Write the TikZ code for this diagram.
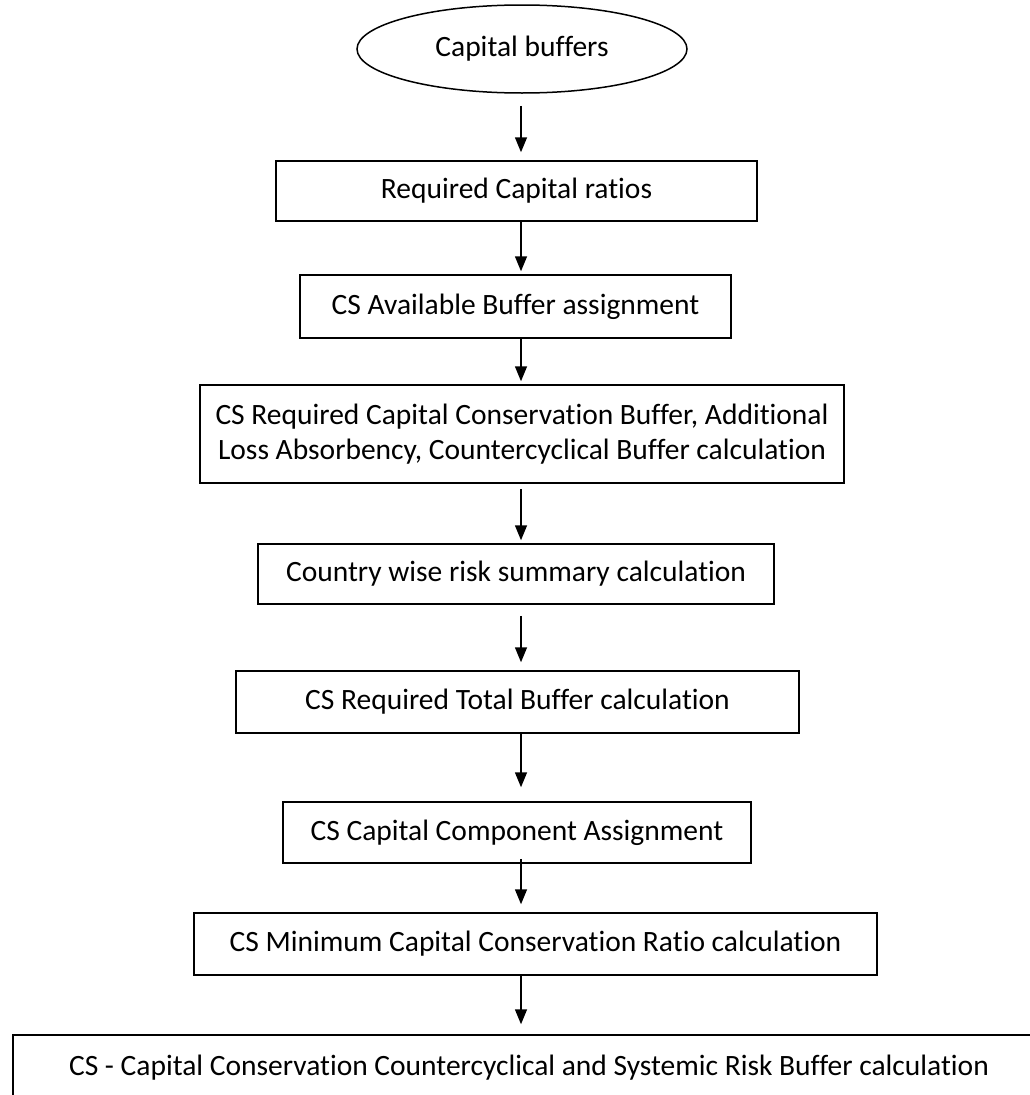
\documentclass[tikz,border=0pt]{standalone}
\usepackage{fontspec}
\setmainfont{Carlito}[Ligatures=NoCommon]
\usetikzlibrary{arrows.meta,shapes.geometric}

\tikzset{
  stepbox/.style={draw, line width=1.5pt, inner sep=0pt, align=center,
    font=\fontsize{29.5}{35}\selectfont},
  flow/.style={-{Triangle[width=12pt,length=15pt]}, line width=1.5pt}
}

\begin{document}
\begin{tikzpicture}[x=1pt,y=-1pt]
\useasboundingbox (0,0) rectangle (1029,1095);
% chain of steps, top to bottom
\node[stepbox, ellipse, minimum width=330pt, minimum height=88pt] (buffers) at (522,49) {Capital buffers};
\node[stepbox, minimum width=481pt, minimum height=60pt] (ratios) at (516.5,191) {Required Capital ratios};
\node[stepbox, minimum width=431pt, minimum height=63pt] (avail) at (515.5,306.5) {CS Available Buffer assignment};
\node[stepbox, minimum width=644pt, minimum height=98pt] (conserv) at (522,434) {CS Required Capital Conservation Buffer, Additional\\Loss Absorbency, Countercyclical Buffer calculation};
\node[stepbox, minimum width=516pt, minimum height=60pt] (country) at (516,574) {Country wise risk summary calculation};
\node[stepbox, minimum width=563pt, minimum height=62pt] (total) at (517.5,702) {CS Required Total Buffer calculation};
\node[stepbox, minimum width=468pt, minimum height=61pt] (component) at (517,832.5) {CS Capital Component Assignment};
\node[stepbox, minimum width=683pt, minimum height=62pt] (minratio) at (535.5,944) {CS Minimum Capital Conservation Ratio calculation};
% last box runs off the page at right and bottom
\node[stepbox, minimum width=1060pt, minimum height=65pt] (systemic) at (543,1067.5) {\hspace{-28pt}CS - Capital Conservation Countercyclical and Systemic Risk Buffer calculation};

% arrows run down one column
\coordinate (axis) at (521,0);
\foreach \a/\b/\s/\e in {buffers/ratios/12/8, ratios/avail/0/3, avail/conserv/0/3,
    conserv/country/5/3, country/total/11/8, total/component/0/14,
    component/minratio/-5/8, minratio/systemic/0/10}
  \draw[flow, shorten <=\s pt, shorten >=\e pt] (\a.south -| axis) -- (\b.north -| axis);
\end{tikzpicture}
\end{document}
